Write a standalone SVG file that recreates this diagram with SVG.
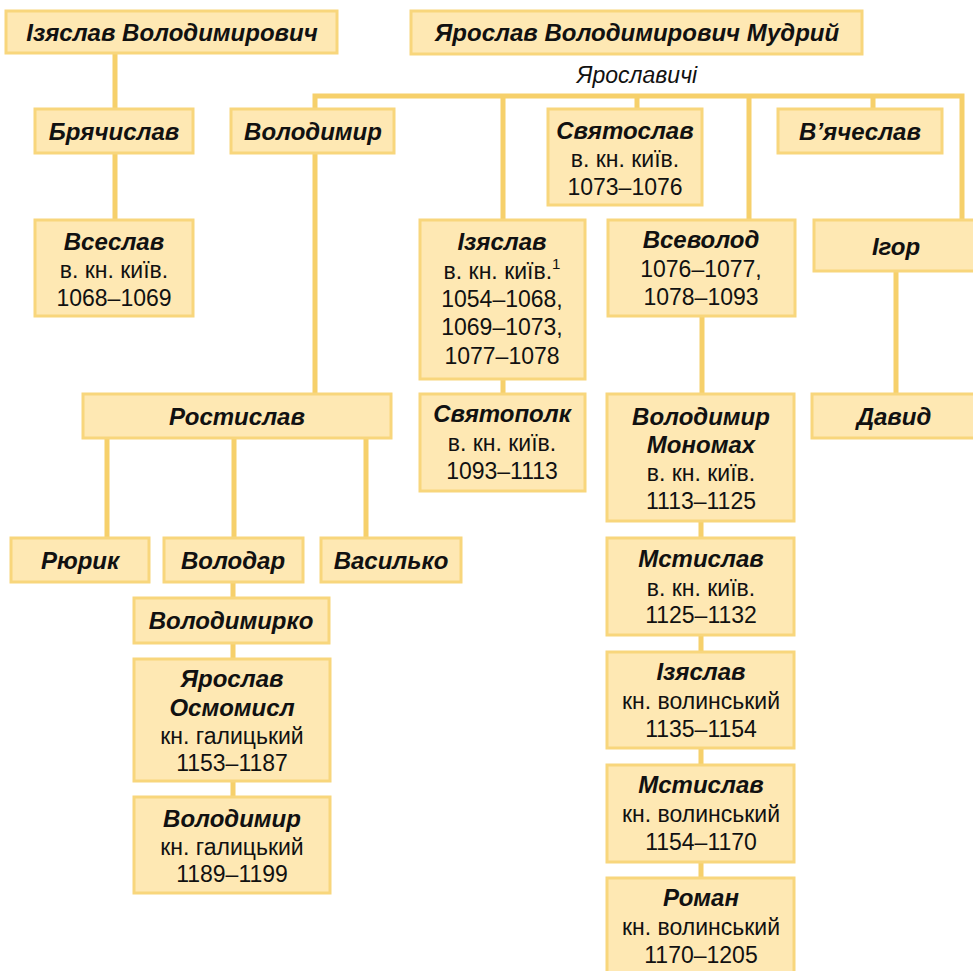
<svg xmlns="http://www.w3.org/2000/svg" width="973" height="971" viewBox="0 0 973 971">
<style>
.b{fill:#FEE8B3;stroke:#F8D67C;stroke-width:3}
.c{stroke:#F6D06B;stroke-width:5;fill:none}
text{font-family:"Liberation Sans",Arial,sans-serif;font-size:23px;fill:#111;text-anchor:middle}
.n{font-weight:bold;font-style:italic;font-size:24px}
.i{font-style:italic}
</style>
<rect width="973" height="971" fill="#fff"/>
<g id="connectors" class="c">
<path d="M115 53V109M115 153V220"/>
<path d="M315 153V96H962V220M315 96V394M503 96V220M637 96V109M749 96V220M873 96V109"/>
<path d="M503 379V394M702 316V394M896 271V394"/>
<path d="M107 438V538M234 438V538M366 438V538M233 582V598M233 643V659M233 781V797"/>
<path d="M701 521V538M701 635V652M701 748V765M701 862V878"/>
</g>
<g id="izyaslav_vol"><rect class="b" x="6" y="11" width="331" height="42"/><text class="n" x="172" y="41">Ізяслав Володимирович</text></g>
<g id="yaroslav"><rect class="b" x="411" y="11" width="451" height="43"/><text class="n" x="637" y="41">Ярослав Володимирович Мудрий</text></g>
<text class="i" x="637" y="83">Ярославичі</text>
<g id="bryachyslav"><rect class="b" x="35" y="109" width="158" height="44"/><text class="n" x="114" y="140">Брячислав</text></g>
<g id="volodymyr1"><rect class="b" x="231" y="109" width="163" height="44"/><text class="n" x="313" y="140">Володимир</text></g>
<g id="svyatoslav"><rect class="b" x="548" y="109" width="154" height="96"/><text class="n" x="625" y="139">Святослав</text><text x="625" y="167">в. кн. київ.</text><text x="625" y="195">1073–1076</text></g>
<g id="vyacheslav"><rect class="b" x="778" y="109" width="164" height="44"/><text class="n" x="860" y="140">В’ячеслав</text></g>
<g id="vseslav"><rect class="b" x="35" y="220" width="158" height="96"/><text class="n" x="114" y="250">Всеслав</text><text x="114" y="278">в. кн. київ.</text><text x="114" y="306">1068–1069</text></g>
<g id="izyaslav"><rect class="b" x="420" y="220" width="165" height="159"/><text class="n" x="502" y="250">Ізяслав</text><text x="502" y="279">в. кн. київ.<tspan font-size="15" dy="-10">1</tspan></text><text x="502" y="307">1054–1068,</text><text x="502" y="335">1069–1073,</text><text x="502" y="364">1077–1078</text></g>
<g id="vsevolod"><rect class="b" x="608" y="220" width="187" height="96"/><text class="n" x="701" y="248">Всеволод</text><text x="701" y="277">1076–1077,</text><text x="701" y="305">1078–1093</text></g>
<g id="ihor"><rect class="b" x="814" y="220" width="162" height="51"/><text class="n" x="896" y="255">Ігор</text></g>
<g id="rostyslav"><rect class="b" x="83" y="394" width="308" height="44"/><text class="n" x="237" y="425">Ростислав</text></g>
<g id="svyatopolk"><rect class="b" x="420" y="394" width="165" height="97"/><text class="n" x="502" y="422">Святополк</text><text x="502" y="451">в. кн. київ.</text><text x="502" y="479">1093–1113</text></g>
<g id="monomakh"><rect class="b" x="607" y="394" width="187" height="127"/><text class="n" x="701" y="425">Володимир</text><text class="n" x="701" y="453">Мономах</text><text x="701" y="481">в. кн. київ.</text><text x="701" y="509">1113–1125</text></g>
<g id="davyd"><rect class="b" x="812" y="394" width="164" height="44"/><text class="n" x="894" y="425">Давид</text></g>
<g id="ryuryk"><rect class="b" x="11" y="538" width="138" height="44"/><text class="n" x="80" y="569">Рюрик</text></g>
<g id="volodar"><rect class="b" x="164" y="538" width="139" height="44"/><text class="n" x="233" y="569">Володар</text></g>
<g id="vasylko"><rect class="b" x="321" y="538" width="140" height="44"/><text class="n" x="391" y="569">Василько</text></g>
<g id="volodymyrko"><rect class="b" x="134" y="598" width="195" height="45"/><text class="n" x="231" y="629">Володимирко</text></g>
<g id="osmomysl"><rect class="b" x="134" y="659" width="196" height="122"/><text class="n" x="232" y="687">Ярослав</text><text class="n" x="232" y="716">Осмомисл</text><text x="232" y="744">кн. галицький</text><text x="232" y="771">1153–1187</text></g>
<g id="volodymyr2"><rect class="b" x="134" y="797" width="196" height="96"/><text class="n" x="232" y="827">Володимир</text><text x="232" y="855">кн. галицький</text><text x="232" y="882">1189–1199</text></g>
<g id="mstyslav1"><rect class="b" x="607" y="538" width="187" height="97"/><text class="n" x="701" y="567">Мстислав</text><text x="701" y="596">в. кн. київ.</text><text x="701" y="623">1125–1132</text></g>
<g id="izyaslav2"><rect class="b" x="607" y="652" width="187" height="96"/><text class="n" x="701" y="680">Ізяслав</text><text x="701" y="709">кн. волинський</text><text x="701" y="737">1135–1154</text></g>
<g id="mstyslav2"><rect class="b" x="607" y="765" width="187" height="97"/><text class="n" x="701" y="793">Мстислав</text><text x="701" y="822">кн. волинський</text><text x="701" y="850">1154–1170</text></g>
<g id="roman"><rect class="b" x="607" y="878" width="187" height="97"/><text class="n" x="701" y="906">Роман</text><text x="701" y="935">кн. волинський</text><text x="701" y="963">1170–1205</text></g>
</svg>
